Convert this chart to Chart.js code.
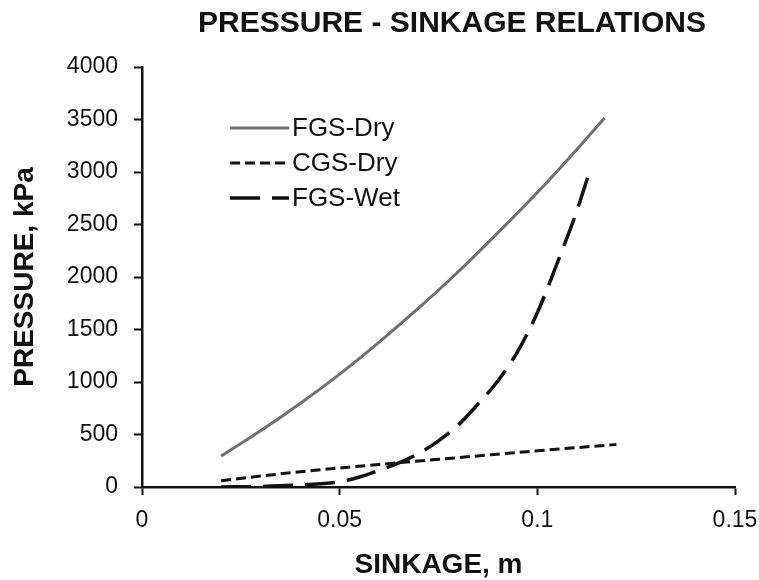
<!DOCTYPE html>
<html>
<head>
<meta charset="utf-8">
<script src="https://cdn.jsdelivr.net/npm/chart.js@4"></script>
<style>
  html, body { margin: 0; padding: 0; background: #fff; }
</style>
</head>
<body>
<canvas id="myChart" width="759" height="580"></canvas>
<script>
// data
var chartTitle = 'PRESSURE - SINKAGE RELATIONS';
var seriesNames = ['FGS-Dry', 'CGS-Dry', 'FGS-Wet'];

var fgsDryX = [0.02, 0.03, 0.04, 0.05, 0.06, 0.07, 0.08, 0.09, 0.10, 0.11, 0.117];
var fgsDryY = [295, 535, 795, 1075, 1380, 1705, 2050, 2420, 2805, 3215, 3515];

var cgsDryX = [0.02, 0.04, 0.06, 0.08, 0.10, 0.12];
var cgsDryY = [60, 145, 215, 280, 345, 405];

var fgsWetX = [0.02, 0.03, 0.04, 0.05, 0.055, 0.06, 0.065, 0.07, 0.075, 0.08, 0.085, 0.09, 0.095, 0.10, 0.105, 0.11, 0.113];
var fgsWetY = [0, 5, 20, 50, 95, 160, 230, 320, 440, 590, 790, 1010, 1290, 1660, 2130, 2630, 2980];

var xTicks = [0, 0.05, 0.1, 0.15];
var xTickLabels = ['0', '0.05', '0.1', '0.15'];
var yTicks = [0, 500, 1000, 1500, 2000, 2500, 3000, 3500, 4000];
var yTickLabels = ['0', '500', '1000', '1500', '2000', '2500', '3000', '3500', '4000'];

function toPoints(xs, ys) {
    return xs.map(function (x, i) { return {x: x, y: ys[i]}; });
}

var FONT = '"Liberation Sans", Arial, sans-serif';

// title drawn over the plot, centred like the original
var titlePlugin = {
    id: 'topTitle',
    afterDraw: function (chart) {
        var c = chart.ctx;
        c.save();
        c.font = 'bold 30px ' + FONT;
        c.fillStyle = '#111';
        c.textAlign = 'center';
        c.textBaseline = 'alphabetic';
        c.fillText(chartTitle, 452, 32);
        c.restore();
    }
};

// legend sits inside the plot area, top left
var innerLegend = {
    id: 'innerLegend',
    afterDraw: function (chart) {
        var c = chart.ctx;
        c.save();
        chart.data.datasets.forEach(function (ds, i) {
            var y = 128 + i * 35;
            c.beginPath();
            c.setLineDash(ds.borderDash || []);
            c.strokeStyle = ds.borderColor;
            c.lineWidth = ds.borderWidth;
            c.moveTo(230, y);
            c.lineTo(289, y);
            c.stroke();
            c.setLineDash([]);
            c.font = '26px ' + FONT;
            c.fillStyle = '#111';
            c.textAlign = 'left';
            c.textBaseline = 'middle';
            c.fillText(ds.label, 292, y + 1);
        });
        c.restore();
    }
};

var ctx = document.getElementById('myChart').getContext('2d');
var myChart = new Chart(ctx, {
    type: 'line',
    data: {
        datasets: [
        {
            label: seriesNames[0],
            data: toPoints(fgsDryX, fgsDryY),
            borderColor: '#707070',
            borderWidth: 3,
        },
        {
            label: seriesNames[1],
            data: toPoints(cgsDryX, cgsDryY),
            borderColor: '#111',
            borderWidth: 3,
            borderDash: [10, 5],
        },
        {
            label: seriesNames[2],
            data: toPoints(fgsWetX, fgsWetY),
            borderColor: '#111',
            borderWidth: 3.5,
            borderDash: [30, 12],
        }]
    },
    options: {
        responsive: false,
        animation: false,
        elements: {
            point: { radius: 0 },
            line: { cubicInterpolationMode: 'monotone' }
        },
        layout: {
            padding: { top: 67, right: 24, left: 0, bottom: 0 }
        },
        plugins: {
            legend: { display: false },
            tooltip: { enabled: false },
            title: { display: false }
        },
        scales: {
            x: {
                type: 'linear',
                min: 0,
                max: 0.15,
                afterBuildTicks: function (scale) {
                    scale.ticks = xTicks.map(function (v) { return {value: v}; });
                },
                afterFit: function (scale) {
                    scale.height = 93;
                    scale.paddingLeft = 0;
                    scale.paddingRight = 0;
                },
                grid: {
                    drawOnChartArea: false,
                    drawTicks: true,
                    tickLength: 8,
                    tickWidth: 2,
                    tickColor: '#111'
                },
                border: { display: true, color: '#111', width: 2.5 },
                ticks: {
                    padding: 12,
                    color: '#111',
                    maxRotation: 0,
                    font: { family: FONT, size: 23 },
                    callback: function (v, i) { return xTickLabels[i]; }
                },
                title: {
                    display: true,
                    text: 'SINKAGE, m',
                    color: '#111',
                    padding: { top: 0, bottom: 1 },
                    font: { family: FONT, size: 28, weight: 'bold', lineHeight: 1 }
                }
            },
            y: {
                min: 0,
                max: 4000,
                afterBuildTicks: function (scale) {
                    scale.ticks = yTicks.map(function (v) { return {value: v}; });
                },
                afterFit: function (scale) { scale.width = 142; },
                grid: {
                    drawOnChartArea: false,
                    drawTicks: true,
                    tickLength: 8,
                    tickWidth: 2,
                    tickColor: '#111'
                },
                border: { display: true, color: '#111', width: 2.5 },
                ticks: {
                    padding: 16,
                    color: '#111',
                    font: { family: FONT, size: 23 },
                    callback: function (v, i) { return yTickLabels[i]; }
                },
                title: {
                    display: true,
                    text: 'PRESSURE, kPa',
                    color: '#111',
                    padding: { top: 11, bottom: 0 },
                    font: { family: FONT, size: 28, weight: 'bold', lineHeight: 1 }
                }
            }
        }
    },
    plugins: [titlePlugin, innerLegend]
});
</script>
</body>
</html>
